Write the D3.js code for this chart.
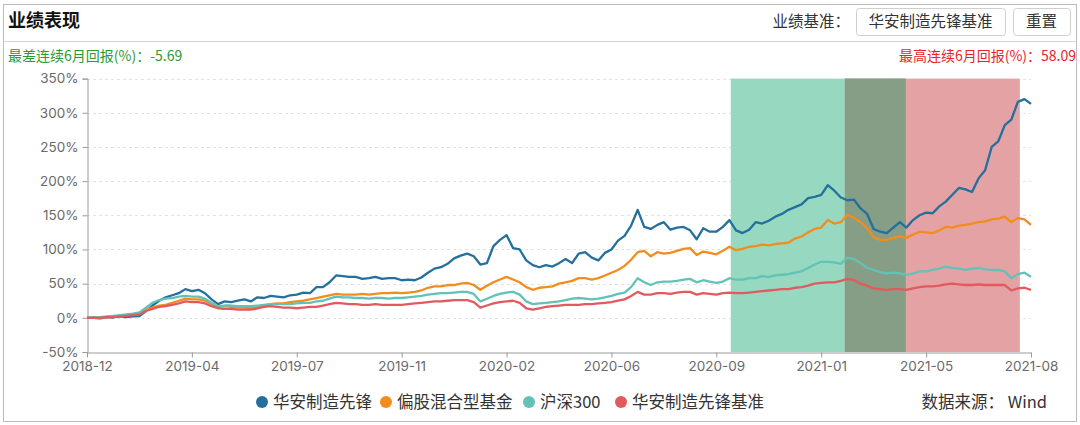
<!DOCTYPE html>
<html><head><meta charset="utf-8">
<script src="https://cdn.jsdelivr.net/npm/d3@7"></script>
<style>
html,body{margin:0;padding:0;background:#fff;}
svg{display:block;font-family:"Noto Sans CJK SC","Noto Sans",sans-serif;}
</style></head>
<body><svg id="c" width="1080" height="425"></svg>
<script>
// ---- data ----
const tickLabels = ["2018-12","2019-04","2019-07","2019-11","2020-02","2020-06","2020-09","2021-01","2021-05","2021-08"];
const pointsPerTick = 16;
const seriesNames = ["华安制造先锋","偏股混合型基金","沪深300","华安制造先锋基准"];
const seriesColors = ["#23709c","#f28d1d","#62c2b8","#e05a5e"];
const fundValues = [0,0.5,-0.5,1,0.5,2,1,2,2.5,10,18,25,30,33,36,42,39,41,36,27,20,24,23,25,27,24,30,29,32,31,30,33,34,37,36,45,45,52,62,61,60,60,57,58,60,57,58,58,55,56,55,59,66,72,74,79,87,91,94,90,78,80,105,114,121,102,100,84,77,74,77,75,80,86,80,94,96,88,84,95,100,113,120,135,158,133,130,136,140,129,132,133,128,115,131,126,126,133,143,128,124,129,140,138,142,148,152,158,162,166,175,177,180,194,186,176,172,173,160,152,130,126,124,132,140,132,143,150,154,153,163,170,180,190,188,184,204,216,250,258,282,290,316,320,313];
const mixedValues = [0,0,-1,1,2,3,4,5,7,12,15,18,19,22,25,28,27,27,25,20,16,17,16,15,15,14,16,18,20,21,21,23,24,25,27,29,31,33,35,34,34,34,35,34,35,36,36,37,36,37,38,40,44,46,46,48,48,50,51,48,41,47,52,56,60,56,52,45,41,44,45,46,50,52,54,58,58,56,58,62,66,70,76,85,96,98,90,96,94,95,98,101,102,92,97,95,93,98,104,99,101,104,105,107,106,108,109,110,116,119,125,130,132,143,138,140,151,146,140,131,118,114,114,117,119,117,122,126,125,124,128,133,132,135,136,138,140,141,144,145,148,140,146,144,136];
const hs300Values = [0,0,1,2,3,4,5,6,8,15,22,26,28,29,31,32,31,31,28,22,17,18,18,17,17,17,18,19,20,20,20,20,21,22,22,24,25,28,31,30,30,29,29,28,29,29,28,29,29,30,31,32,34,35,36,36,37,38,38,35,24,28,32,35,37,38,34,24,20,21,22,23,24,26,28,29,28,27,28,30,32,35,37,45,58,52,48,52,53,53,54,56,57,52,55,53,51,53,58,56,56,58,58,61,60,62,63,64,66,68,73,78,82,82,81,79,88,86,80,73,70,67,65,66,65,63,65,68,68,70,72,75,73,72,70,72,73,71,70,70,68,58,64,66,60];
const benchValues = [0,0,0,1,1,2,3,4,5,10,13,16,17,19,21,24,23,23,21,17,14,13,13,12,12,12,14,16,17,16,15,15,14,15,16,16,18,20,22,21,20,20,19,19,20,19,19,19,19,20,21,22,23,24,24,25,26,26,26,23,15,18,21,23,24,25,22,14,12,14,16,17,18,19,19,19,20,20,21,22,23,25,27,32,38,34,34,36,36,35,37,38,38,34,36,35,34,36,37,36,36,37,38,39,40,41,42,42,44,45,47,50,51,52,52,54,57,55,50,47,43,42,41,42,42,41,43,45,46,46,47,49,50,49,48,48,49,48,48,48,48,40,43,44,41];
const yTicks = [-50,0,50,100,150,200,250,300,350];
// shaded periods (category index range): worst 6 months (green), best 6 months (red)
const worstPeriod = [98.2, 124.9];
const bestPeriod = [115.6, 142.3];
const worstText = "最差连续6月回报(%)：-5.69";
const bestText = "最高连续6月回报(%)：58.09";

const allSeries = [fundValues, mixedValues, hs300Values, benchValues];
const N = fundValues.length;

const svg = d3.select("#c");
// frame
svg.append("rect").attr("x",3.5).attr("y",4.5).attr("width",1073).attr("height",417)
  .attr("fill","none").attr("stroke","#bdbdbd");
svg.append("line").attr("x1",3.5).attr("x2",1076.5).attr("y1",41.5).attr("y2",41.5).attr("stroke","#d4d4d4");
svg.append("text").attr("x",8).attr("y",27).attr("font-size",18).attr("font-weight","bold").attr("fill","#111").text("业绩表现");
svg.append("text").attr("x",850).attr("y",27).attr("text-anchor","end").attr("font-size",15.5).attr("fill","#333").text("业绩基准：");
[[856,1005,"华安制造先锋基准"],[1013,1070,"重置"]].forEach(([a,b,t])=>{
  svg.append("rect").attr("x",a+0.5).attr("y",8.5).attr("width",b-a).attr("height",27).attr("rx",3)
    .attr("fill","#fff").attr("stroke","#cfcfcf");
  svg.append("text").attr("x",(a+b)/2).attr("y",27).attr("text-anchor","middle").attr("font-size",15.5).attr("fill","#333").text(t);
});
svg.append("text").attr("x",8).attr("y",61).attr("font-size",14).attr("fill","#2a9a32").text(worstText);
svg.append("text").attr("x",1076).attr("y",61).attr("text-anchor","end").attr("font-size",14).attr("fill","#e8222a").text(bestText);

// scales
const x = d3.scaleLinear().domain([0, N-1]).range([87, 1031]);
const y = d3.scaleLinear().domain([-50, 350]).range([352, 78.6]);

// grid
const g = svg.append("g");
g.selectAll("line.grid").data(yTicks.filter(d=>d!==-50)).join("line")
  .attr("x1",87).attr("x2",1031).attr("y1",d=>Math.round(y(d))+0.5).attr("y2",d=>Math.round(y(d))+0.5)
  .attr("stroke","#e3e3e3").attr("stroke-dasharray","3,3");

// shaded areas
const pr = (p)=>[x(p[0]), x(p[1])];
const [g0,g1] = pr(worstPeriod), [r0,r1] = pr(bestPeriod);
g.append("rect").attr("x",g0).attr("width",g1-g0).attr("y",y(350)).attr("height",y(-50)-y(350)).attr("fill","#97d9c0");
g.append("rect").attr("x",r0).attr("width",r1-r0).attr("y",y(350)).attr("height",y(-50)-y(350)).attr("fill","#e4a2a4");
const o0 = Math.max(g0,r0), o1 = Math.min(g1,r1);
if (o1>o0) g.append("rect").attr("x",o0).attr("width",o1-o0).attr("y",y(350)).attr("height",y(-50)-y(350)).attr("fill","#869e86");

// axes
const yAxis = d3.axisLeft(y).tickValues(yTicks).tickFormat(d=>d+"%").tickSize(5).tickPadding(4);
const ya = svg.append("g").attr("transform","translate(87.5,0)").call(yAxis);
ya.select(".domain").attr("stroke","#9a9a9a");
ya.selectAll(".tick line").attr("stroke","#9a9a9a");
ya.selectAll("text").attr("font-size",13.5).attr("fill","#6a6a6a").attr("font-family","Inter, 'Noto Sans', sans-serif");

const xTickVals = tickLabels.map((_,i)=>i*pointsPerTick);
const xAxis = d3.axisBottom(x).tickValues(xTickVals).tickFormat((d,i)=>tickLabels[i]).tickSize(5).tickSizeOuter(0).tickPadding(4);
const xa = svg.append("g").attr("transform","translate(0,352.5)").call(xAxis);
xa.select(".domain").attr("stroke","#9a9a9a");
xa.selectAll(".tick line").attr("stroke","#9a9a9a");
xa.selectAll("text").attr("font-size",13.5).attr("fill","#6a6a6a").attr("font-family","Inter, 'Noto Sans', sans-serif");

// lines
const line = d3.line().x((d,i)=>x(i)).y(d=>y(d)).curve(d3.curveLinear);
allSeries.forEach((s,k)=>{
  svg.append("path").attr("d",line(s)).attr("fill","none").attr("stroke",seriesColors[k])
    .attr("stroke-width",2.3).attr("stroke-linejoin","round");
});

// legend
const legX = [262, 386, 529, 621];
seriesNames.forEach((n,k)=>{
  svg.append("circle").attr("cx",legX[k]).attr("cy",402).attr("r",6).attr("fill",seriesColors[k]);
  svg.append("text").attr("x",legX[k]+11).attr("y",408).attr("font-size",16.5).attr("fill","#333").text(n);
});
svg.append("text").attr("x",1047).attr("y",408).attr("text-anchor","end").attr("font-size",16.5).attr("fill","#333").text("数据来源：  Wind");
</script></body></html>
